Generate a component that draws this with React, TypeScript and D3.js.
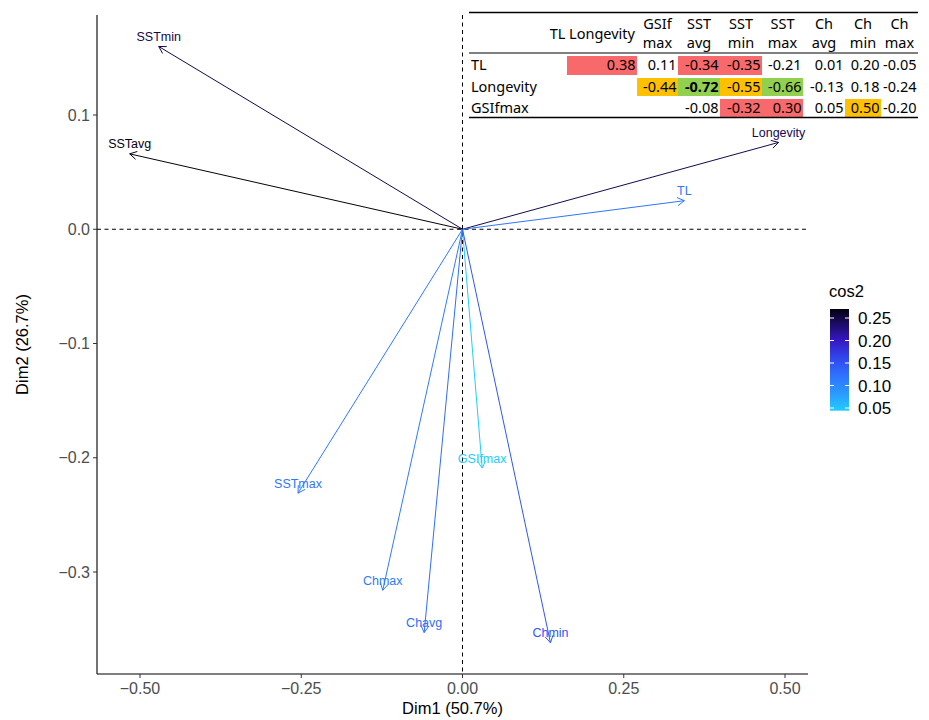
import React from 'react';
import * as d3 from 'd3';

// variable coordinates on Dim1 / Dim2 and their cos2
const varNames = ['SSTmin', 'SSTavg', 'Longevity', 'TL', 'SSTmax', 'GSIfmax', 'Chmax', 'Chavg', 'Chmin'];
const dim1 = [-0.471, -0.516, 0.49, 0.344, -0.255, 0.0305, -0.1236, -0.0594, 0.1364];
const dim2 = [0.16, 0.066, 0.076, 0.025, -0.231, -0.209, -0.316, -0.353, -0.362];
const cos2 = [0.247, 0.27, 0.246, 0.119, 0.117, 0.044, 0.113, 0.126, 0.147];

const xTicks = [-0.5, -0.25, 0, 0.25, 0.5];
const yTicks = [-0.3, -0.2, -0.1, 0, 0.1];
const legendTicks = [0.05, 0.1, 0.15, 0.2, 0.25];

// correlation table
const colHeads = [['TL'], ['Longevity'], ['GSIf', 'max'], ['SST', 'avg'], ['SST', 'min'], ['SST', 'max'], ['Ch', 'avg'], ['Ch', 'min'], ['Ch', 'max']];
const rowNames = ['TL', 'Longevity', 'GSIfmax'];
const corrTL = [null, 0.38, 0.11, -0.34, -0.35, -0.21, 0.01, 0.2, -0.05];
const corrLongevity = [null, null, -0.44, -0.72, -0.55, -0.66, -0.13, 0.18, -0.24];
const corrGSI = [null, null, null, -0.08, -0.32, 0.3, 0.05, 0.5, -0.2];
const markTL = ['', 'r', '', 'r', 'r', '', '', '', ''];
const markLongevity = ['', '', 'o', 'g', 'o', 'g', '', '', ''];
const markGSI = ['', '', '', '', 'r', 'r', '', 'o', ''];

const W = 929, H = 720;
const panel = { left: 97, right: 808, top: 15, bottom: 674 };
const markFill: Record<string, string> = { r: '#F8696B', o: '#FFC000', g: '#92D050' };

export default function App() {
  const x = d3.scaleLinear().domain([-0.5, 0.5]).range([140, 785]);
  const y = d3.scaleLinear().domain([-0.3, 0.1]).range([572, 115]);
  const color = d3.scaleLinear<string>()
    .domain([0.044, 0.08, 0.12, 0.16, 0.2, 0.27])
    .range(['#22ccff', '#2a9cff', '#2f74ff', '#3048ee', '#3618c4', '#05000f'])
    .interpolate(d3.interpolateRgb);
  const leg = d3.scaleLinear().domain([0.05, 0.25]).range([408, 318]);
  const legLo = 0.044, legHi = 0.27;

  const cols = [548, 567, 637, 678, 720, 762, 803, 845, 881, 918];
  const rows = [54, 76, 97, 118];
  const tableRows = [corrTL, corrLongevity, corrGSI];
  const tableMarks = [markTL, markLongevity, markGSI];
  const tf = '"Noto Sans", sans-serif';
  const af = '"Liberation Sans", Arial, sans-serif';

  const arrowHead = (x1: number, y1: number, x2: number, y2: number) => {
    const a = Math.atan2(y2 - y1, x2 - x1);
    const L = 8, s = Math.PI / 6;
    const p1 = [x2 - L * Math.cos(a - s), y2 - L * Math.sin(a - s)];
    const p2 = [x2 - L * Math.cos(a + s), y2 - L * Math.sin(a + s)];
    return `M${p1[0]},${p1[1]}L${x2},${y2}L${p2[0]},${p2[1]}`;
  };

  const stops = d3.range(0, 1.0001, 0.05).map(t => legLo + t * (legHi - legLo));

  return (
    <svg width={W} height={H} style={{ position: 'absolute', left: 0, top: 0, background: '#fff' }}>
      <defs>
        <linearGradient id="cosgrad" x1="0" y1="1" x2="0" y2="0">
          {stops.map((v, i) => (
            <stop key={i} offset={(v - legLo) / (legHi - legLo)} stopColor={color(v)} />
          ))}
        </linearGradient>
      </defs>
      <rect width={W} height={H} fill="#fff" />

      {/* reference lines */}
      <line x1={panel.left} x2={panel.right} y1={y(0)} y2={y(0)} stroke="#000" strokeWidth={1} strokeDasharray="4,3.5" />
      <line x1={x(0)} x2={x(0)} y1={panel.top} y2={panel.bottom} stroke="#000" strokeWidth={1} strokeDasharray="4,3.5" />

      {/* arrows */}
      {varNames.map((n, i) => {
        const x2 = x(dim1[i]), y2 = y(dim2[i]);
        const c = color(cos2[i]);
        return (
          <g key={n}>
            <line x1={x(0)} y1={y(0)} x2={x2} y2={y2} stroke={c} strokeWidth={1} />
            <path d={arrowHead(x(0), y(0), x2, y2)} fill="none" stroke={c} strokeWidth={1} />
            <text x={x2} y={y2 - 5.5} textAnchor="middle" fontFamily={af} fontSize={12.5} fill={c}>{n}</text>
          </g>
        );
      })}

      {/* axes */}
      <line x1={panel.left} x2={panel.left} y1={panel.top} y2={panel.bottom} stroke="#000" strokeWidth={1.1} />
      <line x1={panel.left} x2={panel.right} y1={panel.bottom} y2={panel.bottom} stroke="#000" strokeWidth={1.1} />
      {xTicks.map(t => (
        <g key={t}>
          <line x1={x(t)} x2={x(t)} y1={panel.bottom} y2={panel.bottom + 4} stroke="#333" />
          <text x={x(t)} y={panel.bottom + 20} textAnchor="middle" fontFamily={af} fontSize={16} fill="#4D4D4D">{d3.format('.2f')(t)}</text>
        </g>
      ))}
      {yTicks.map(t => (
        <g key={t}>
          <line x1={panel.left - 4} x2={panel.left} y1={y(t)} y2={y(t)} stroke="#333" />
          <text x={panel.left - 7} y={y(t) + 5.5} textAnchor="end" fontFamily={af} fontSize={16} fill="#4D4D4D">{d3.format('.1f')(t)}</text>
        </g>
      ))}
      <text x={(panel.left + panel.right) / 2} y={714} textAnchor="middle" fontFamily={af} fontSize={16.5} fill="#000">Dim1 (50.7%)</text>
      <text transform={`translate(28,${(panel.top + panel.bottom) / 2}) rotate(-90)`} textAnchor="middle" fontFamily={af} fontSize={16.5} fill="#000">Dim2 (26.7%)</text>

      {/* legend */}
      <text x={829} y={297} fontFamily={af} fontSize={16.5} fill="#000">cos2</text>
      <rect x={830} y={leg(legHi)} width={19} height={leg(legLo) - leg(legHi)} fill="url(#cosgrad)" />
      {legendTicks.map(t => (
        <g key={t}>
          <line x1={830} x2={834} y1={leg(t)} y2={leg(t)} stroke="#fff" strokeWidth={1} />
          <line x1={845} x2={849} y1={leg(t)} y2={leg(t)} stroke="#fff" strokeWidth={1} />
          <text x={858} y={leg(t) + 6} fontFamily={af} fontSize={17} fill="#000">{d3.format('.2f')(t)}</text>
        </g>
      ))}

      {/* correlation table */}
      <g fontFamily={tf} fontSize={14.5} fill="#000">
        {tableRows.map((r, ri) =>
          r.map((v, ci) => {
            const m = tableMarks[ri][ci];
            return m ? (
              <rect key={`f${ri}-${ci}`} x={cols[ci]} y={rows[ri] + 2} width={cols[ci + 1] - cols[ci]} height={rows[ri + 1] - rows[ri] - 3} fill={markFill[m]} />
            ) : null;
          })
        )}
        <line x1={469} x2={918} y1={12.5} y2={12.5} stroke="#000" strokeWidth={1.5} />
        <line x1={469} x2={918} y1={53} y2={53} stroke="#000" strokeWidth={1} />
        <line x1={469} x2={918} y1={117.5} y2={117.5} stroke="#000" strokeWidth={1.5} />
        {colHeads.map((h, ci) => {
          const cx = (cols[ci] + cols[ci + 1]) / 2;
          return h.length === 1 ? (
            <text key={ci} x={cx} y={39} textAnchor="middle">{h[0]}</text>
          ) : (
            <text key={ci} x={cx} textAnchor="middle">
              <tspan x={cx} y={29}>{h[0]}</tspan>
              <tspan x={cx} y={48}>{h[1]}</tspan>
            </text>
          );
        })}
        {rowNames.map((n, ri) => (
          <text key={n} x={471} y={rows[ri] + 16}>{n}</text>
        ))}
        {tableRows.map((r, ri) =>
          r.map((v, ci) =>
            v === null ? null : (
              <text key={`v${ri}-${ci}`} x={cols[ci + 1] - 1.5} y={rows[ri] + 16} textAnchor="end"
                fontWeight={ri === 1 && ci === 3 ? 'bold' : 'normal'}>{v.toFixed(2)}</text>
            )
          )
        )}
      </g>
    </svg>
  );
}
